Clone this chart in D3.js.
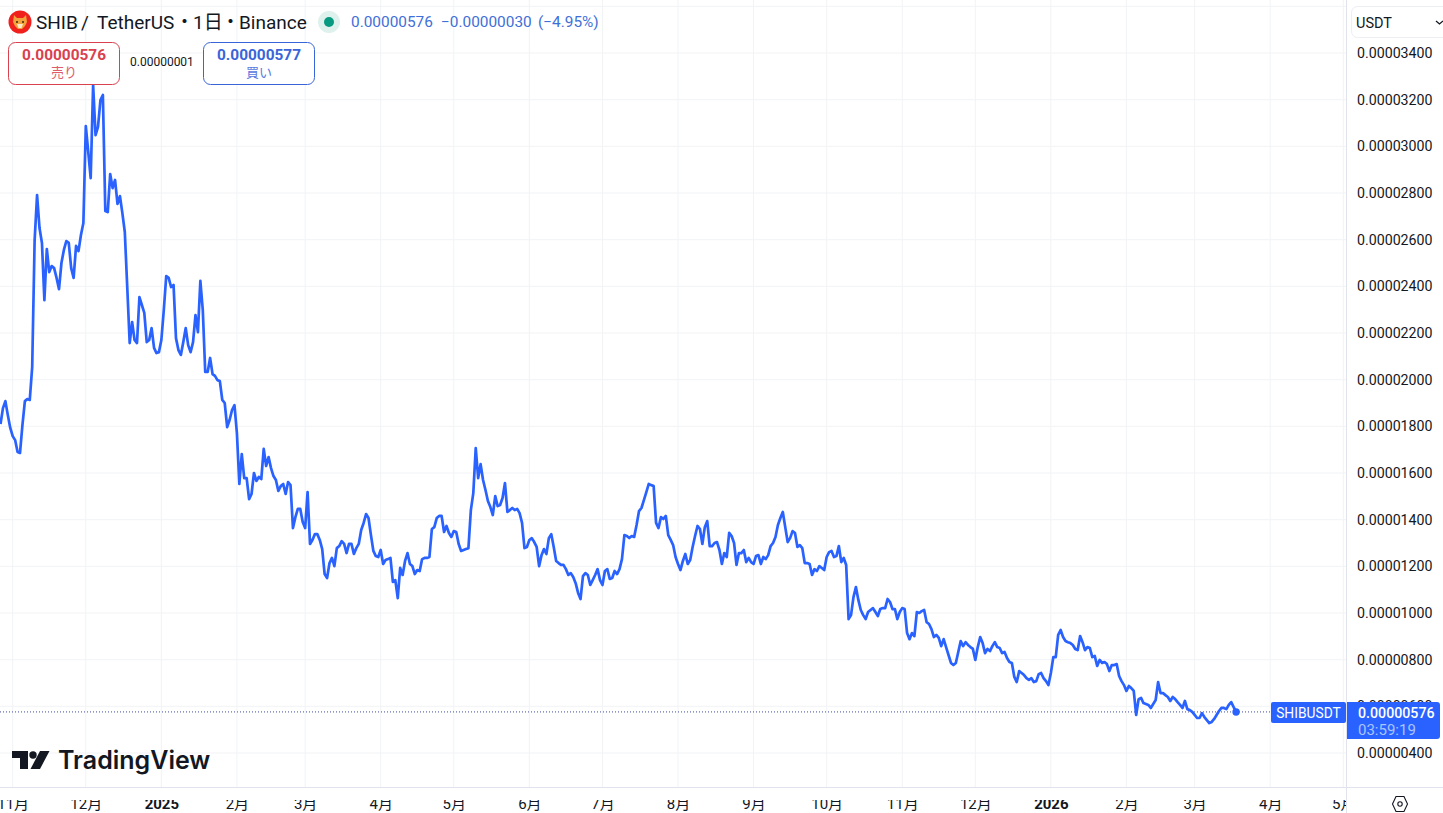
<!DOCTYPE html>
<html>
<head>
<meta charset="utf-8">
<script src="https://cdn.jsdelivr.net/npm/d3@7"></script>
<style>
  body { margin: 0; background: #fff; }
  svg { display: block; }
  text { font-family: Roboto, "Noto Sans CJK JP", sans-serif; }
</style>
</head>
<body>
<div id="chart"></div>
<script>
// daily closes, in units of 0.00000001 USDT
var oct2024 = [1810,1878,1908,1848,1793];
var nov2024 = [1758,1741,1690,1686,1806,1908,1917,1913,2054,2598,2791,2650,2586,2341,2560,2461,2487,2478,2436,2388,2500,2556,2594,2586,2478,2436,2573,2551,2620,2671];
var dec2024 = [3087,2976,2864,3263,3048,3083,3198,3220,2723,2718,2881,2821,2856,2753,2787,2714,2633,2397,2157,2247,2170,2157,2354,2320,2286,2161,2170,2221,2136,2114,2118];
var jan2025 = [2170,2298,2444,2436,2397,2406,2178,2127,2106,2161,2221,2148,2118,2161,2277,2204,2423,2298,2033,2033,2093,2024,2016,1998,1994,1913,1900,1797,1827,1870,1891];
var feb2025 = [1771,1553,1681,1578,1578,1488,1510,1600,1566,1583,1574,1703,1630,1668,1621,1587,1570,1523,1544,1553,1510,1561,1548,1364,1411,1446,1446,1390];
var mar2025 = [1364,1518,1296,1313,1338,1338,1313,1274,1167,1150,1214,1236,1201,1278,1287,1308,1296,1257,1296,1296,1253,1278,1296,1356,1386,1424,1407,1334,1266,1244,1240];
var apr2025 = [1270,1210,1227,1231,1236,1133,1141,1064,1193,1163,1223,1257,1210,1201,1167,1184,1180,1231,1236,1236,1240,1360,1368,1407,1416,1416,1347,1373,1343,1326];
var may2025 = [1351,1347,1296,1266,1270,1274,1278,1441,1514,1707,1578,1638,1570,1527,1480,1454,1420,1501,1458,1463,1493,1557,1433,1441,1450,1441,1446,1428,1386,1278,1283];
var jun2025 = [1313,1321,1304,1283,1201,1248,1274,1253,1321,1338,1283,1223,1214,1206,1206,1188,1163,1171,1154,1128,1086,1060,1158,1171,1163,1120,1141,1163,1188,1141];
var jul2025 = [1120,1180,1188,1146,1150,1180,1167,1188,1231,1334,1330,1321,1330,1326,1377,1437,1450,1484,1518,1553,1548,1544,1386,1364,1411,1403,1416,1334,1313,1291,1240];
var aug2025 = [1210,1184,1223,1253,1210,1227,1283,1330,1373,1360,1296,1368,1394,1287,1287,1300,1304,1270,1210,1257,1240,1343,1330,1300,1206,1257,1257,1270,1218,1236,1218];
var sep2025 = [1210,1244,1248,1210,1240,1231,1248,1287,1300,1326,1377,1407,1433,1368,1304,1321,1351,1343,1283,1291,1278,1214,1214,1210,1163,1188,1180,1201,1193,1184];
var oct2025 = [1240,1261,1266,1240,1244,1287,1218,1236,1206,974,991,1068,1111,1056,1013,991,974,1004,1013,1021,1004,987,1017,1021,1021,1060,1047,1017,1017,974,1004];
var nov2025 = [1021,1017,914,888,914,901,1004,1000,1008,1013,961,953,931,897,906,893,858,888,854,820,786,777,786,833,880,858,875,863,854,846];
var dec2025 = [799,854,897,871,828,846,837,858,875,854,850,828,833,807,790,786,726,704,751,743,734,721,713,721,704,708,738,743,721,708,691];
var jan2026 = [743,811,811,906,927,897,880,875,871,863,846,841,901,875,841,854,850,811,816,773,799,786,790,781,751,777,777,781,730,708,691];
var feb2026 = [666,687,678,666,563,631,636,614,610,606,593,610,627,704,657,657,648,640,623,640,631,618,606,593,623,588,584,576];
var mar2026 = [563,550,550,571,554,541,528,533,546,563,580,593,593,588,606,618,597,576];

var closes = [].concat(oct2024, nov2024, dec2024, jan2025, feb2025, mar2025, apr2025, may2025, jun2025, jul2025, aug2025, sep2025, oct2025, nov2025, dec2025, jan2026, feb2026, mar2026);

var firstDay = "2024-10-27";
var monthStarts = ["2024-11-01","2024-12-01","2025-01-01","2025-02-01","2025-03-01","2025-04-01","2025-05-01","2025-06-01","2025-07-01","2025-08-01","2025-09-01","2025-10-01","2025-11-01","2025-12-01","2026-01-01","2026-02-01","2026-03-01","2026-04-01","2026-05-01"];
var monthLabels = ["11月","12月","2025","2月","3月","4月","5月","6月","7月","8月","9月","10月","11月","12月","2026","2月","3月","4月","5月"];
var priceTicks = [400,600,800,1000,1200,1400,1600,1800,2000,2200,2400,2600,2800,3000,3200,3400,3600];

var lastPrice = closes[closes.length - 1];
var titleParts = [["SHIB", 36], ["/", 81], ["TetherUS", 97], ["・", 175], ["1日", 193], ["・", 221], ["Binance", 239]];
var quoteParts = [["0.00000576", 351], ["−0.00000030", 441], ["(−4.95%)", 538]];
var sellPrice = "0.00000576", buyPrice = "0.00000577", spread = "0.00000001", countdown = "03:59:19";

var width = 1443, height = 813, paneW = 1346, paneH = 787;
var blue = "#2962ff", gridColor = "#f2f3f5", borderColor = "#e0e3eb", ink = "#131722";

var parseDay = d3.utcParse("%Y-%m-%d");
var formatPrice = function (v) { return (v / 1e8).toFixed(8); };

var series = closes.map(function (c, i) {
    return {date: d3.utcDay.offset(parseDay(firstDay), i), close: c};
});
var monthDates = monthStarts.map(parseDay);

var x = d3.scaleUtc().domain([monthDates[0], monthDates[17]]).range([12.7, 1270.2]);
var y = d3.scaleLinear().domain([400, 3400]).range([753, 53]);

var svg = d3.select("#chart").append("svg")
    .attr("width", width)
    .attr("height", height);

svg.append("clipPath").attr("id", "pane")
    .append("rect").attr("width", paneW).attr("height", height);

//grid
svg.append("g").selectAll("line").data(monthDates).enter().append("line")
    .attr("x1", function (d) { return x(d); })
    .attr("x2", function (d) { return x(d); })
    .attr("y1", 0).attr("y2", paneH)
    .attr("stroke", gridColor);
svg.append("g").selectAll("line").data(priceTicks).enter().append("line")
    .attr("x1", 0).attr("x2", paneW)
    .attr("y1", function (d) { return y(d); })
    .attr("y2", function (d) { return y(d); })
    .attr("stroke", gridColor);

//last price dotted line
svg.append("line")
    .attr("x1", 0).attr("x2", 1271)
    .attr("y1", y(lastPrice)).attr("y2", y(lastPrice))
    .attr("stroke", "#3f4aa0")
    .attr("stroke-dasharray", "1 2");

//price line
var line = d3.line()
    .x(function (d) { return x(d.date); })
    .y(function (d) { return y(d.close); });

svg.append("g").attr("clip-path", "url(#pane)")
    .append("path")
    .datum(series)
    .attr("fill", "none")
    .attr("stroke", blue)
    .attr("stroke-width", 2.7)
    .attr("stroke-linejoin", "round")
    .attr("d", line);

svg.append("circle")
    .attr("cx", x(series[series.length - 1].date))
    .attr("cy", y(lastPrice))
    .attr("r", 3.7)
    .attr("fill", blue);

//borders
svg.append("line").attr("x1", 0).attr("x2", width).attr("y1", 787.5).attr("y2", 787.5).attr("stroke", borderColor);
svg.append("line").attr("x1", 1346.5).attr("x2", 1346.5).attr("y1", 0).attr("y2", height).attr("stroke", borderColor);

//time axis
var xAxis = d3.axisBottom(x)
    .tickValues(monthDates)
    .tickSize(0)
    .tickPadding(0)
    .tickFormat(function (d, i) { return monthLabels[i]; });
var xAxisG = svg.append("g")
    .attr("clip-path", "url(#pane)")
    .attr("transform", "translate(0,800)")
    .call(xAxis);
xAxisG.select(".domain").remove();
xAxisG.selectAll("text")
    .attr("dy", "0.32em")
    .attr("y", 4)
    .attr("fill", ink)
    .style("font-size", "15px")
    .style("font-weight", function (d, i) { return /^20/.test(monthLabels[i]) ? "700" : "400"; });

//price axis
var yAxis = d3.axisRight(y)
    .tickValues(priceTicks.filter(function (d) { return d < 3600; }))
    .tickSize(0)
    .tickPadding(0)
    .tickFormat(formatPrice);
var yAxisG = svg.append("g")
    .attr("transform", "translate(1357,0)")
    .call(yAxis);
yAxisG.select(".domain").remove();
yAxisG.selectAll("text")
    .attr("fill", ink)
    .style("font-size", "14.2px");

//last price badges
svg.append("rect").attr("x", 1271).attr("y", 702).attr("width", 75).attr("height", 21).attr("rx", 2).attr("fill", blue);
svg.append("text").attr("x", 1308.5).attr("y", 717.5).attr("text-anchor", "middle").attr("fill", "#fff")
    .style("font-size", "13.8px").text("SHIBUSDT");
svg.append("path").attr("d", "M1347 702H1437a3 3 0 0 1 3 3V736a3 3 0 0 1 -3 3H1347Z").attr("fill", blue);
svg.append("text").attr("x", 1358).attr("y", 717.5).attr("fill", "#fff")
    .style("font-size", "14.2px").style("font-weight", "500").text(formatPrice(lastPrice));
svg.append("text").attr("x", 1358).attr("y", 735).attr("fill", "#a9c4ff")
    .style("font-size", "15px").text(countdown);

//currency select
svg.append("rect").attr("x", 1351.5).attr("y", 6.5).attr("width", 100).attr("height", 31).attr("rx", 6)
    .attr("fill", "#fff").attr("stroke", "#eceef2");
svg.append("text").attr("x", 1356).attr("y", 28).attr("fill", ink).style("font-size", "14.5px").text("USDT");
svg.append("path").attr("d", "M1436 21l3.5 3 3.5 -3").attr("fill", "none").attr("stroke", ink).attr("stroke-width", 1.3);

//settings icon
svg.append("path").attr("d", "M1392.5 804l3.5 -7.5h8l3.5 7.5 -3.5 7.5h-8Z").attr("fill", "none").attr("stroke", ink).attr("stroke-width", 1.1);
svg.append("circle").attr("cx", 1400).attr("cy", 804).attr("r", 2.2).attr("fill", "none").attr("stroke", ink).attr("stroke-width", 1.1);

//title row
svg.append("circle").attr("cx", 20).attr("cy", 22).attr("r", 11.5).attr("fill", "#f0201c");
svg.append("path").attr("d", "M14 15l3 3h6l3 -3 1 7 -2 4 -3 3h-4l-3 -3 -2 -4Z").attr("fill", "#f2a33c");
svg.append("path").attr("d", "M17 24h6l-1.5 4h-3Z").attr("fill", "#fdeacb");
svg.append("circle").attr("cx", 17).attr("cy", 22).attr("r", 1).attr("fill", "#3a2410");
svg.append("circle").attr("cx", 23).attr("cy", 22).attr("r", 1).attr("fill", "#3a2410");
svg.append("text").attr("y", 29).attr("fill", ink).style("font-size", "19px")
    .selectAll("tspan").data(titleParts).enter().append("tspan")
    .attr("x", function (d) { return d[1]; })
    .text(function (d) { return d[0]; });
svg.append("circle").attr("cx", 329).attr("cy", 22).attr("r", 11).attr("fill", "#dff1ec");
svg.append("circle").attr("cx", 329).attr("cy", 22).attr("r", 5).attr("fill", "#089981");
svg.append("text").attr("y", 27).attr("fill", "#3f6fd8").style("font-size", "15.4px")
    .selectAll("tspan").data(quoteParts).enter().append("tspan")
    .attr("x", function (d) { return d[1]; })
    .text(function (d) { return d[0]; });

//sell and buy boxes
function orderBox(left, color, price, label) {
    svg.append("rect").attr("x", left + 0.5).attr("y", 42.5).attr("width", 111).attr("height", 42).attr("rx", 7)
        .attr("fill", "#fff").attr("stroke", color);
    svg.append("text").attr("x", left + 56).attr("y", 60).attr("text-anchor", "middle").attr("fill", color)
        .style("font-size", "15.4px").style("font-weight", "700").text(price);
    svg.append("text").attr("x", left + 56).attr("y", 77).attr("text-anchor", "middle").attr("fill", color)
        .style("font-size", "13px").style("opacity", 0.85).text(label);
}
orderBox(8, "#d9414f", sellPrice, "売り");
orderBox(203, "#3a65d8", buyPrice, "買い");
svg.append("text").attr("x", 130).attr("y", 66).attr("fill", ink).style("font-size", "12px").text(spread);

//watermark
svg.append("path").attr("d", "M12 751H28V769H20V758H12Z").attr("fill", ink);
svg.append("circle").attr("cx", 33).attr("cy", 755).attr("r", 3.7).attr("fill", ink);
svg.append("path").attr("d", "M40 751H49.5L40 769H30.5Z").attr("fill", ink);
svg.append("text").attr("x", 58).attr("y", 769).attr("fill", ink)
    .style("font-family", "Inter, sans-serif").style("font-size", "25px").style("font-weight", "600").text("TradingView");
</script>
</body>
</html>
